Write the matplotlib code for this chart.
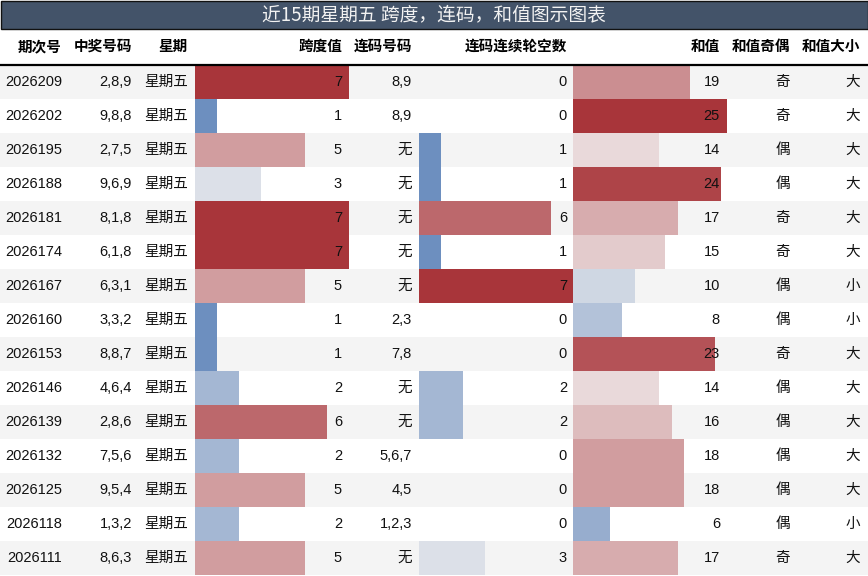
import matplotlib
matplotlib.use("Agg")
import matplotlib.pyplot as plt
from matplotlib.colors import LinearSegmentedColormap, TwoSlopeNorm
from matplotlib.patches import Rectangle

periods = ['2026209', '2026202', '2026195', '2026188', '2026181', '2026174', '2026167', '2026160',
           '2026153', '2026146', '2026139', '2026132', '2026125', '2026118', '2026111']
numbers = ['2,8,9', '9,8,8', '2,7,5', '9,6,9', '8,1,8', '6,1,8', '6,3,1', '3,3,2',
           '8,8,7', '4,6,4', '2,8,6', '7,5,6', '9,5,4', '1,3,2', '8,6,3']
weekdays = ['星期五'] * 15
spans = [7, 1, 5, 3, 7, 7, 5, 1, 1, 2, 6, 2, 5, 2, 5]
consec = ['8,9', '8,9', '无', '无', '无', '无', '无', '2,3', '7,8', '无', '无', '5,6,7', '4,5', '1,2,3', '无']
gaps = [0, 0, 1, 1, 6, 1, 7, 0, 0, 2, 2, 0, 0, 0, 3]
sums = [19, 25, 14, 24, 17, 15, 10, 8, 23, 14, 16, 18, 18, 6, 17]
parity = ['奇', '奇', '偶', '偶', '奇', '奇', '偶', '偶', '奇', '偶', '偶', '偶', '偶', '偶', '奇']
bigsmall = ['大', '大', '大', '大', '大', '大', '小', '小', '大', '大', '大', '大', '大', '小', '大']

headers = ['期次号', '中奖号码', '星期', '跨度值', '连码号码', '连码连续轮空数', '和值', '和值奇偶', '和值大小']
title = '近15期星期五 跨度，连码，和值图示图表'

# layout (pixels)
W, H = 868, 576
title_h = 28
head_bottom = 64.5
row_h = 34
text_right = [62, 132, 188, 342, 412, 567, 720, 790, 860]
bar_w = 154
bar_left = {3: 195, 5: 419, 6: 573}

cmap = LinearSegmentedColormap.from_list('rb', ['#6d8fbf', '#f2f0f0', '#a8353a'])
norms = {
    3: TwoSlopeNorm(vmin=1, vcenter=3.4, vmax=7),
    5: TwoSlopeNorm(vmin=1, vcenter=3.4, vmax=7),
    6: TwoSlopeNorm(vmin=3, vcenter=12.5, vmax=25),
}
bar_vals = {3: spans, 5: gaps, 6: sums}

plt.rcParams['font.family'] = ['Liberation Sans', 'Noto Sans CJK SC', 'DejaVu Sans']

fig = plt.figure(figsize=(W / 100, H / 100), dpi=100)
ax = fig.add_axes([0, 0, 1, 1])
ax.set_xlim(0, W)
ax.set_ylim(H, 0)
ax.axis('off')

# title bar
ax.add_patch(Rectangle((0.5, 0.5), W - 1, title_h, facecolor='#435369', edgecolor='#111111', lw=1))
ax.text(W / 2, title_h / 2 + 1, title, color='#f2f2f2', fontsize=13.5, ha='center', va='center',
        family=['Noto Sans CJK SC'])

# header
for x, h in zip(text_right, headers):
    ax.text(x, 46, h, ha='right', va='center', fontsize=10.5, fontweight='bold',
            family=['Noto Sans CJK SC'])
ax.axhline(head_bottom, color='black', lw=1.6)

n = len(periods)
tops = [head_bottom + 0.5 + i * row_h for i in range(n)]
centers = [t + row_h / 2 for t in tops]

# zebra rows
for i, t in enumerate(tops):
    if i % 2 == 0:
        ax.axhspan(t, t + row_h, color='#f4f4f4', lw=0, zorder=0)

# bars
for c, vals in bar_vals.items():
    vmax = max(vals)
    widths = [v / vmax * bar_w for v in vals]
    colors = [cmap(norms[c](v)) for v in vals]
    ax.barh(centers, widths, height=row_h, left=bar_left[c], color=colors, lw=0, zorder=1)

# cell text
columns = [periods, numbers, weekdays, spans, consec, gaps, sums, parity, bigsmall]
for x, col in zip(text_right, columns):
    for y, v in zip(centers, col):
        ax.text(x, y, str(v), ha='right', va='center', fontsize=10.5, color='#111111', zorder=3)

fig.savefig('out.png', dpi=100)
